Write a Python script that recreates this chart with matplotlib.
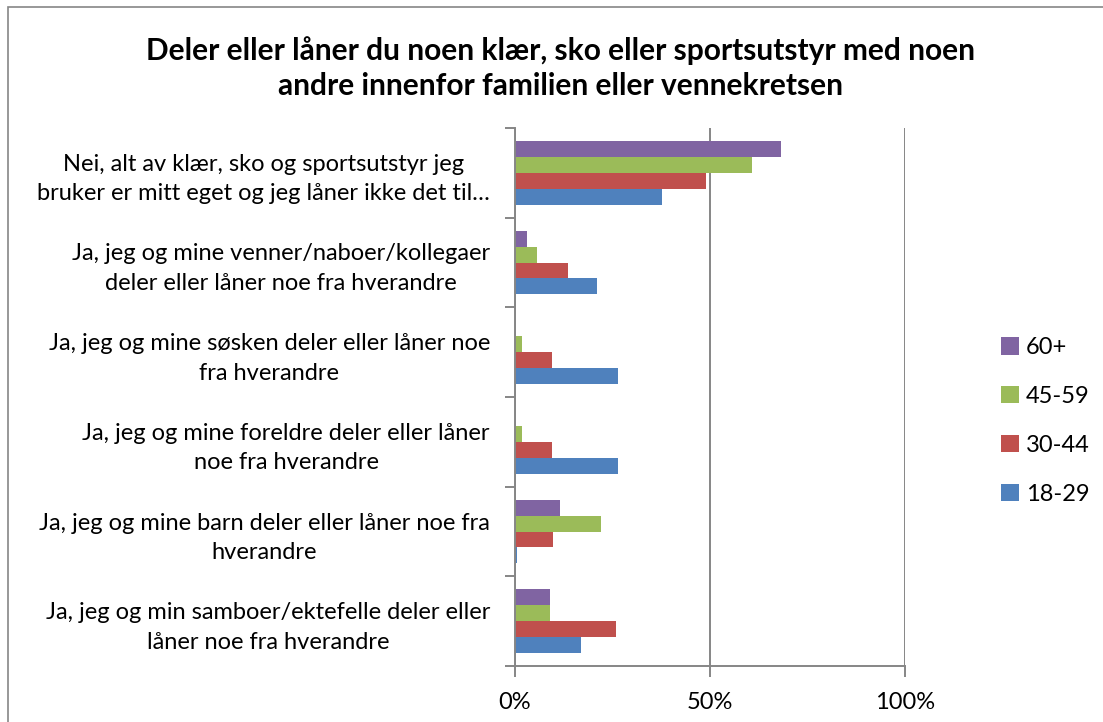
import matplotlib
matplotlib.use("Agg")
import matplotlib.pyplot as plt
from matplotlib.patches import Rectangle
import numpy as np

plt.rcParams['font.family'] = ['Lato', 'DejaVu Sans']

title = "Deler eller låner du noen klær, sko eller sportsutstyr med noen\nandre innenfor familien eller vennekretsen"

categories = [
    "Nei, alt av klær, sko og sportsutstyr jeg\nbruker er mitt eget og jeg låner ikke det til…",
    "Ja, jeg og mine venner/naboer/kollegaer\ndeler eller låner noe fra hverandre",
    "Ja, jeg og mine søsken deler eller låner noe\nfra hverandre",
    "Ja, jeg og mine foreldre deler eller låner\nnoe fra hverandre",
    "Ja, jeg og mine barn deler eller låner noe fra\nhverandre",
    "Ja, jeg og min samboer/ektefelle deler eller\nlåner noe fra hverandre",
]

series_names = ["60+", "45-59", "30-44", "18-29"]
v_60 = [68.2, 3.2, 0.0, 0.0, 11.6, 9.1]
v_45 = [60.7, 5.7, 1.8, 1.8, 22.0, 9.1]
v_30 = [49.1, 13.7, 9.6, 9.6, 9.8, 26.0]
v_18 = [37.6, 20.9, 26.5, 26.5, 0.4, 16.8]
series_values = [v_60, v_45, v_30, v_18]
colors = ["#8064A2", "#9BBB59", "#C0504D", "#4F81BD"]

x_ticks = [0, 50, 100]
x_tick_labels = ["0%", "50%", "100%"]

W, H = 1103, 722
fig = plt.figure(figsize=(W / 100, H / 100), dpi=100)
fig.patch.set_facecolor("white")

# outer chart border
fig.patches.append(Rectangle((8 / W, -0.1), 1.2, 1 - 7 / H + 0.1, transform=fig.transFigure,
                             fill=False, edgecolor="#868686", linewidth=1.2))

ax = fig.add_axes([515 / W, 1 - 666 / H, (905 - 515) / W, (666 - 128) / H])

n = len(categories)
ypos = np.arange(n)[::-1]  # first category on top
h = 0.178
offsets = [1.5 * h, 0.5 * h, -0.5 * h, -1.5 * h]
for name, vals, col, off in zip(series_names, series_values, colors, offsets):
    ax.barh(ypos + off, vals, height=h, color=col, label=name, linewidth=0)

ax.set_xlim(0, 100)
ax.set_ylim(-0.5, n - 0.5)

fs = 17.0
ax.set_xticks(x_ticks)
ax.set_xticklabels(x_tick_labels, fontsize=fs)
ax.xaxis.grid(True, color="#868686", linewidth=1.4)
ax.set_axisbelow(True)

ax.set_yticks(ypos)
ax.set_yticklabels(categories, fontsize=fs, ha="right", multialignment="center", linespacing=1.5)
ax.set_yticks(np.arange(-0.5, n, 1.0), minor=True)
ax.tick_params(axis="y", which="major", length=0, pad=18)
ax.tick_params(axis="y", which="minor", length=7, width=1.4, color="#868686", direction="out")
ax.tick_params(axis="x", length=8, width=1.4, color="#868686", direction="out", pad=11)

for s in ["top", "right"]:
    ax.spines[s].set_visible(False)
for s in ["left", "bottom"]:
    ax.spines[s].set_color("#868686")
    ax.spines[s].set_linewidth(1.4)

fig.text(561 / W, 1 - 68 / H, title, ha="center", va="center", fontsize=21.5,
         fontweight="bold", linespacing=1.3)

handles, labels = ax.get_legend_handles_labels()
leg = fig.legend(handles, labels, loc="center left", bbox_to_anchor=(1001 / W, 1 - 421 / H),
                 frameon=False, fontsize=fs, handlelength=0.75, handleheight=0.75,
                 handletextpad=0.3, labelspacing=1.18, borderpad=0, borderaxespad=0)

fig.savefig("out.png", dpi=100, facecolor="white")
